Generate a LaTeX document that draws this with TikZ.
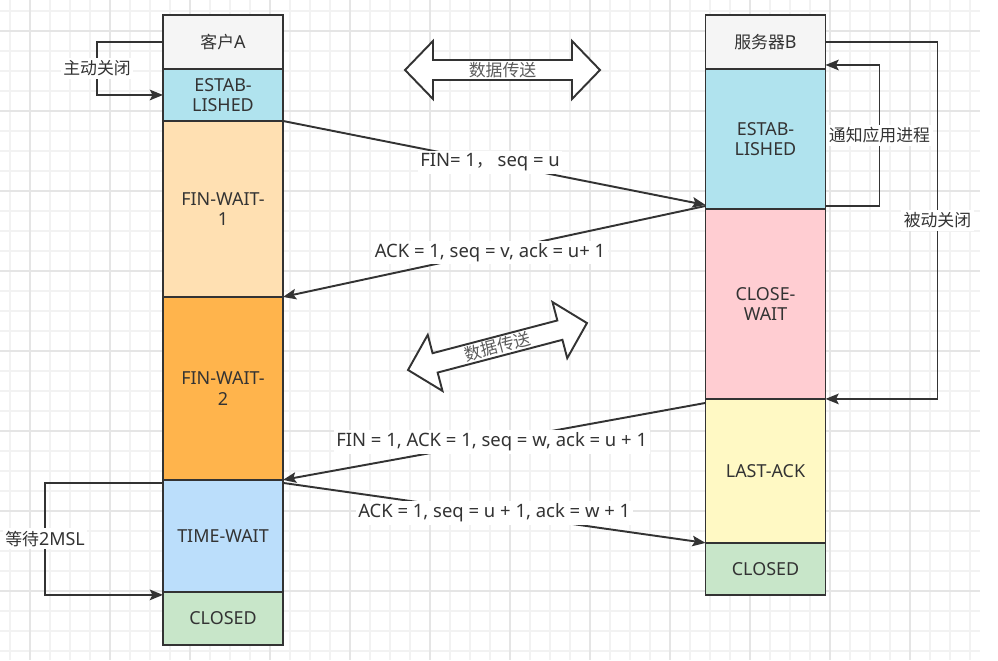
\documentclass[tikz,border=0pt]{standalone}
\usepackage{fontspec}
\setmainfont{Noto Sans}
\newfontfamily\cjk{Noto Sans CJK SC}
\newcommand\zh[1]{{\cjk\fontsize{9.6}{11.4}\selectfont #1}}
\usetikzlibrary{arrows.meta,positioning}
\definecolor{ink}{HTML}{333333}
\definecolor{hdrgray}{HTML}{F5F5F5}
\definecolor{estcyan}{HTML}{B0E3EE}
\definecolor{waitone}{HTML}{FFE0B2}
\definecolor{waittwo}{HTML}{FFB44C}
\definecolor{timeblue}{HTML}{BBDEFB}
\definecolor{closedgreen}{HTML}{C8E6C9}
\definecolor{closepink}{HTML}{FFCDD2}
\definecolor{lastyellow}{HTML}{FFF9C4}
\tikzset{
  state/.style={draw=ink, line width=1.1pt, minimum width=2.4cm, outer sep=0pt, inner sep=0pt, align=center, text=ink, font=\fontsize{10.2}{11.6}\selectfont},
  flow/.style={-{Stealth[length=7.5pt, width=6pt, inset=1.5pt]}, line width=1.1pt, draw=ink},
  tag/.style={fill=white, text=ink, inner sep=1.5pt, font=\fontsize{10.5}{12}\selectfont},
  gridminor/.style={draw=black!5, line width=0.6pt},
  gridmajor/.style={draw=black!10, line width=0.6pt},
  bigarrow/.style={draw=ink, line width=1.1pt, fill=white},
  pics/dataarrow/.style={code={
    \draw[bigarrow] (-#1,0) -- (-#1+28,-29) -- (-#1+28,-10) -- (#1-28,-10) -- (#1-28,-29) -- (#1,0)
      -- (#1-28,29) -- (#1-28,10) -- (-#1+28,10) -- (-#1+28,29) -- cycle;
    \node[text=ink!80, transform shape] (-text) at (0,0) {\zh{数据传送}};
  }}
}

\begin{document}
\begin{tikzpicture}[x=0.02cm, y=-0.02cm, node distance=0pt]
  \useasboundingbox (0,0) rectangle (998,660);
  \foreach \x in {10,30,...,970} \draw[gridminor] (\x,0) -- (\x,660);
  \foreach \y in {11,31,...,651} \draw[gridminor] (0,\y) -- (980,\y);
  \foreach \x in {30,110,...,910} \draw[gridmajor] (\x,0) -- (\x,660);
  \foreach \y in {31,111,...,591} \draw[gridmajor] (0,\y) -- (980,\y);

  \node[state, fill=hdrgray, minimum height=1.08cm, anchor=north] (hdrA) at (223,15) {\zh{客户}A};
  \node[state, fill=estcyan, minimum height=1.04cm, below=of hdrA] (estA) {ESTAB-\\LISHED};
  \node[state, fill=waitone, minimum height=3.52cm, below=of estA] (waitoneA) {FIN-WAIT-\\1};
  \node[state, fill=waittwo, minimum height=3.66cm, below=of waitoneA] (waittwoA) {FIN-WAIT-\\2};
  \node[state, fill=timeblue, minimum height=2.24cm, below=of waittwoA] (timeA) {TIME-WAIT};
  \node[state, fill=closedgreen, minimum height=1.06cm, below=of timeA] (closedA) {CLOSED};

  \node[state, fill=hdrgray, minimum height=1.08cm, anchor=north] (hdrB) at (765.5,15) {\zh{服务器}B};
  \node[state, fill=estcyan, minimum height=2.8cm, below=of hdrB] (estB) {ESTAB-\\LISHED};
  \node[state, fill=closepink, minimum height=3.8cm, below=of estB] (closeB) {CLOSE-\\WAIT};
  \node[state, fill=lastyellow, minimum height=2.88cm, below=of closeB] (lastB) {LAST-ACK};
  \node[state, fill=closedgreen, minimum height=1.04cm, below=of lastB] (closedB) {CLOSED};

  \pic (topData) at (502.5,70) {dataarrow=97.5};
  \pic[rotate=14.7] (midData) at (497.5,346.5) {dataarrow=92.5};

  \draw[flow] (estA.south east) -- ([shift={(0,-4)}]estB.south west)
    node[tag, pos=0.49] (finMsg) {FIN= 1\zh{，}\ seq = u};
  \draw[flow] ([shift={(0,-3)}]estB.south west) -- (waitoneA.south east)
    node[tag, pos=0.51] (ackMsg) {ACK = 1, seq = v, ack = u+ 1};
  \draw[flow] ([shift={(0,4)}]lastB.north west) -- (waittwoA.south east)
    node[tag, pos=0.506] (finAckMsg) {FIN = 1, ACK = 1, seq = w, ack = u + 1};
  \draw[flow] ([shift={(0,3)}]timeA.north east) -- (closedB.north west)
    node[tag, pos=0.5] (lastAckMsg) {ACK = 1, seq = u + 1, ack = w + 1};

  \draw[flow] (hdrA.west) -- ++(-66,0) |- (estA.west)
    node[tag, pos=0.25] (activeClose) {\zh{主动关闭}};
  \draw[flow] ([shift={(0,-3)}]estB.south east) -- ++(54,0) |- ([shift={(0,-4)}]estB.north east)
    node[tag, pos=0.25] (notifyApp) {\zh{通知应用进程}};
  \draw[flow] (hdrB.east) -- ++(112,0) |- (lastB.north east)
    node[tag, pos=0.25] (passiveClose) {\zh{被动关闭}};
  \draw[flow] ([shift={(0,3)}]timeA.north west) -- ++(-118,0) |- ([shift={(0,3)}]closedA.north west)
    node[tag, pos=0.25, font=\fontsize{10.2}{11.6}\selectfont] (waitMsl) {\zh{等待}2MSL};
\end{tikzpicture}
\end{document}
